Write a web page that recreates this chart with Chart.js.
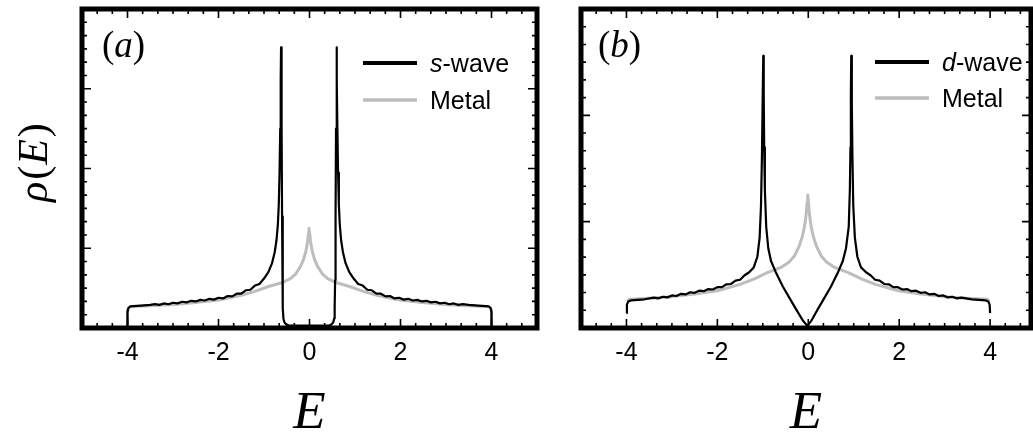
<!DOCTYPE html>
<html>
<head>
<meta charset="utf-8">
<script src="https://cdn.jsdelivr.net/npm/chart.js@4.4.1/dist/chart.umd.min.js"></script>
<style>
  html, body { margin: 0; padding: 0; background: #fff; }
  #chartA { position: absolute; left: 0; top: 0; }
  #chartB { position: absolute; left: 560px; top: 0; }
</style>
</head>
<body>
<canvas id="chartA" width="560" height="433"></canvas>
<canvas id="chartB" width="473" height="433"></canvas>
<script>
// --- data (E, rho(E)) ---
// panel (a): s-wave, wings carry the small numerical noise seen in the plot
const sWaveE = [-4.00, -4.00, -3.98, -3.94, -3.70, -3.50,
  -3.4, -3.3, -3.2, -3.1, -3.0, -2.9, -2.8, -2.7, -2.6, -2.5, -2.4, -2.3,
  -2.2, -2.1, -2.0, -1.9, -1.8, -1.7, -1.6, -1.5, -1.4, -1.3, -1.2, -1.1, -1.00,
  -0.905, -0.825, -0.765, -0.725, -0.695, -0.675, -0.658, -0.643, -0.633, -0.625,
  -0.613, -0.603, -0.593, -0.583, -0.573, -0.55, -0.51, -0.46, -0.41, 0.00,
  0.40, 0.44, 0.48, 0.52, 0.543, 0.553, 0.563, 0.573, 0.583, 0.595,
  0.603, 0.613, 0.628, 0.645, 0.665, 0.695, 0.735, 0.795, 0.875, 0.97,
  1.07, 1.17, 1.27, 1.37, 1.47, 1.57, 1.67, 1.77, 1.87, 1.97, 2.07, 2.17,
  2.27, 2.37, 2.47, 2.57, 2.67, 2.77, 2.87, 2.97, 3.07, 3.17, 3.27, 3.37,
  3.50, 3.70, 3.94, 3.98, 4.00, 4.00];
const sWaveRho = [0.00, 0.20, 0.25, 0.27, 0.28, 0.29,
  0.300, 0.290, 0.308, 0.298, 0.317, 0.309, 0.329, 0.321, 0.341, 0.333, 0.353, 0.345,
  0.366, 0.356, 0.379, 0.371, 0.401, 0.396, 0.430, 0.430, 0.473, 0.480, 0.532, 0.552, 0.62,
  0.70, 0.81, 0.95, 1.10, 1.30, 1.55, 1.95, 2.50, 3.10, 3.52,
  2.50, 1.40, 0.60, 0.25, 0.12, 0.07, 0.045, 0.035, 0.03, 0.03,
  0.03, 0.035, 0.045, 0.07, 0.12, 0.25, 0.60, 1.40, 2.50, 3.52,
  3.10, 2.50, 1.95, 1.55, 1.30, 1.10, 0.95, 0.81, 0.70, 0.62,
  0.552, 0.532, 0.480, 0.473, 0.430, 0.430, 0.396, 0.401, 0.371, 0.379, 0.356, 0.366,
  0.345, 0.353, 0.333, 0.341, 0.321, 0.329, 0.309, 0.317, 0.298, 0.308, 0.290, 0.300,
  0.29, 0.28, 0.27, 0.25, 0.20, 0.00];

// panel (b): d-wave
const dWaveE = [-4.00, -3.99, -3.96, -3.90, -3.60,
  -3.4, -3.3, -3.2, -3.1, -3.0, -2.9, -2.8, -2.7, -2.6, -2.5, -2.4, -2.3,
  -2.2, -2.1, -2.0, -1.9, -1.8, -1.7, -1.6, -1.5, -1.4, -1.3, -1.20,
  -1.12, -1.07, -1.04, -1.02, -1.005, -0.99, -0.98, -0.97, -0.955, -0.925,
  -0.88, -0.82, -0.72, -0.56, -0.37, -0.26, -0.12, -0.02,
  0.07, 0.20, 0.31, 0.50, 0.66, 0.76, 0.83, 0.89, 0.915, 0.928, 0.937, 0.945,
  0.958, 0.972, 0.99, 1.025, 1.08, 1.16,
  1.27, 1.37, 1.47, 1.57, 1.67, 1.77, 1.87, 1.97, 2.07, 2.17, 2.27, 2.37,
  2.47, 2.57, 2.67, 2.77, 2.87, 2.97, 3.07, 3.17, 3.27, 3.37,
  3.60, 3.90, 3.96, 3.99, 4.00];
const dWaveRho = [0.14, 0.22, 0.25, 0.26, 0.27,
  0.286, 0.278, 0.294, 0.288, 0.306, 0.301, 0.321, 0.316, 0.336, 0.331, 0.351, 0.346,
  0.366, 0.362, 0.384, 0.384, 0.411, 0.414, 0.446, 0.454, 0.496, 0.524, 0.57,
  0.67, 0.85, 1.15, 1.60, 2.10, 2.56, 2.20, 1.70, 1.30, 0.95,
  0.75, 0.63, 0.53, 0.39, 0.25, 0.17, 0.07, 0.02,
  0.07, 0.17, 0.25, 0.39, 0.53, 0.63, 0.75, 0.95, 1.30, 1.70, 2.20, 2.56,
  2.10, 1.60, 1.15, 0.85, 0.67, 0.57,
  0.524, 0.496, 0.454, 0.446, 0.414, 0.411, 0.384, 0.384, 0.362, 0.366, 0.346, 0.351,
  0.331, 0.336, 0.316, 0.321, 0.301, 0.306, 0.288, 0.294, 0.278, 0.286,
  0.27, 0.26, 0.25, 0.22, 0.14];

// normal metal, same in both panels (its band edges are hidden under the d-wave curve in (b))
const metalE = [-4.00, -4.00, -3.98, -3.94, -3.50, -3.00, -2.50, -2.00, -1.50, -1.20, -0.90, -0.60,
  -0.42, -0.30, -0.20, -0.13, -0.09, -0.06, -0.04, -0.025, -0.012,
  0.005, 0.02, 0.04, 0.07, 0.11, 0.18, 0.28, 0.40, 0.58, 0.88, 1.18, 1.48,
  1.98, 2.48, 2.98, 3.48, 3.94, 3.98, 4.00, 4.00];
const metalRho = [0.00, 0.22, 0.25, 0.27, 0.28, 0.295, 0.32, 0.35, 0.41, 0.46, 0.52, 0.57,
  0.62, 0.68, 0.77, 0.86, 0.94, 1.02, 1.10, 1.18, 1.25,
  1.18, 1.10, 1.02, 0.94, 0.86, 0.77, 0.68, 0.62, 0.57, 0.52, 0.46, 0.41,
  0.35, 0.32, 0.295, 0.28, 0.27, 0.25, 0.22, 0.00];
const metalBE = metalE.slice(2, -2);
const metalBRho = metalRho.slice(2, -2);

const xTickValues = [-4, -2, 0, 2, 4];

const BLACK = '#000000';
const GREY = '#bdbdbd';
const SERIF = '"Liberation Serif", "Times New Roman", serif';
const SANS = '"Liberation Sans", Arial, Helvetica, sans-serif';

function toPoints(xs, ys) {
  return xs.map((x, i) => ({ x: x, y: ys[i] }));
}

// draws a run of text pieces with different fonts, left to right
function drawParts(ctx, parts, x, y) {
  let cx = x;
  parts.forEach(p => {
    ctx.font = p.f;
    ctx.fillText(p.t, cx, y);
    cx += ctx.measureText(p.t).width + (p.gap || 0);
  });
  return cx - x;
}

/* frame, inward ticks, panel letter, legend, y title */
const panelPlugin = {
  id: 'panel',
  afterDraw(chart, args, o) {
    const { ctx, chartArea: a } = chart;
    const xs = chart.scales.x, ys = chart.scales.y;
    ctx.save();
    ctx.strokeStyle = BLACK;
    ctx.fillStyle = BLACK;
    ctx.lineWidth = 1.6;
    ctx.beginPath();
    for (let k = 0; k <= 30; k++) {
      const v = -5 + k / 3;
      if (v > xs.max + 1e-6) break;
      const px = xs.getPixelForValue(v);
      const len = xTickValues.some(t => Math.abs(t - v) < 1e-6) ? 9 : 5;
      ctx.moveTo(px, a.bottom); ctx.lineTo(px, a.bottom - len);
      ctx.moveTo(px, a.top); ctx.lineTo(px, a.top + len);
    }
    for (let k = 0; k <= ys.max * 6; k++) {
      const py = ys.getPixelForValue(k / 6);
      const len = k % 6 === 0 ? 9 : 5;
      ctx.moveTo(a.left, py); ctx.lineTo(a.left + len, py);
      ctx.moveTo(a.right, py); ctx.lineTo(a.right - len, py);
    }
    ctx.stroke();
    ctx.lineWidth = 5;
    ctx.strokeRect(a.left, a.top, a.width, a.height);

    // panel letter
    ctx.textBaseline = 'alphabetic';
    drawParts(ctx, [
      { t: '(', f: '37px ' + SERIF },
      { t: o.letter, f: 'italic 37px ' + SERIF },
      { t: ')', f: '37px ' + SERIF }
    ], a.left + o.letterDx, 57);

    // legend
    o.legend.forEach((item, i) => {
      const ly = o.legendY[i];
      ctx.strokeStyle = item.color;
      ctx.lineWidth = item.width;
      ctx.beginPath();
      ctx.moveTo(o.legendX, ly);
      ctx.lineTo(o.legendX + 54, ly);
      ctx.stroke();
      ctx.fillStyle = BLACK;
      const parts = [];
      if (item.prefix) parts.push({ t: item.prefix, f: 'italic 25px ' + SANS });
      parts.push({ t: item.text, f: '25px ' + SANS });
      drawParts(ctx, parts, o.legendX + 67, ly + 9);
    });

    // y axis title
    if (o.yTitle) {
      ctx.save();
      ctx.translate(47, 202);
      ctx.rotate(-Math.PI / 2);
      drawParts(ctx, [
        { t: '\u03c1', f: 'italic 42px ' + SERIF, gap: 2 },
        { t: '(', f: '42px ' + SERIF, gap: 1 },
        { t: 'E', f: 'italic 42px ' + SERIF, gap: 2 },
        { t: ')', f: '42px ' + SERIF }
      ], 0, 0);
      ctx.restore();
    }
    ctx.restore();
  }
};

function makeChart(id, curve, metal, yMax, xMax, pad, opts) {
  return new Chart(document.getElementById(id), {
    type: 'scatter',
    data: {
      datasets: [
        { data: curve, showLine: true, borderColor: BLACK, borderWidth: 2.2, pointRadius: 0,
          borderJoinStyle: 'round', tension: 0 },
        { data: metal, showLine: true, borderColor: GREY, borderWidth: 3,
          pointRadius: 0, borderJoinStyle: 'round', tension: 0 }
      ]
    },
    options: {
      responsive: false,
      animation: false,
      layout: { padding: { left: pad.left, right: pad.right, top: 9, bottom: 0 } },
      plugins: { legend: { display: false }, tooltip: { enabled: false }, panel: opts },
      scales: {
        x: {
          type: 'linear', min: -5, max: xMax,
          grid: { display: false }, border: { display: false },
          afterBuildTicks: s => { s.ticks = xTickValues.map(v => ({ value: v })); },
          afterFit: s => { s.height = 105; },
          ticks: { color: BLACK, padding: 2, maxRotation: 0, autoSkip: false,
                   font: { family: SANS, size: 25 }, callback: v => String(v) },
          title: { display: true, text: 'E', color: BLACK, padding: { top: 0, bottom: 0 },
                   font: { family: SERIF, size: 53, style: 'italic', lineHeight: 0.7 } }
        },
        y: { type: 'linear', min: 0, max: yMax, display: false }
      }
    },
    plugins: [panelPlugin]
  });
}

makeChart('chartA', toPoints(sWaveE, sWaveRho), toPoints(metalE, metalRho), 4, 5,
  { left: 82, right: 23 }, {
  letter: 'a', letterDx: 20, yTitle: true,
  legendX: 363, legendY: [63, 100],
  legend: [
    { prefix: 's', text: '-wave', color: BLACK, width: 4 },
    { prefix: '', text: 'Metal', color: GREY, width: 3.5 }
  ]
});

makeChart('chartB', toPoints(dWaveE, dWaveRho), toPoints(metalBE, metalBRho), 3, 4.9,
  { left: 21, right: 2 }, {
  letter: 'b', letterDx: 17, yTitle: false,
  legendX: 315, legendY: [62, 98],
  legend: [
    { prefix: 'd', text: '-wave', color: BLACK, width: 4 },
    { prefix: '', text: 'Metal', color: GREY, width: 3.5 }
  ]
});
</script>
</body>
</html>
